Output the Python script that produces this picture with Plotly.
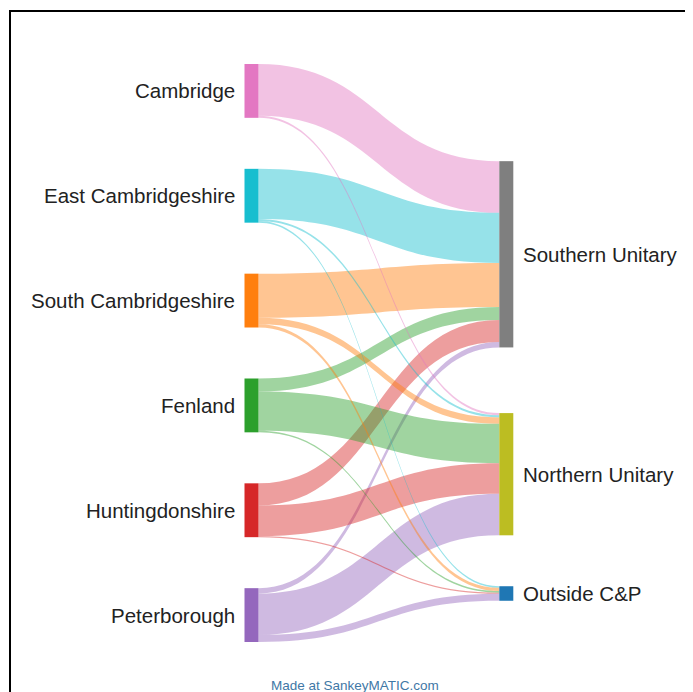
import plotly.graph_objects as go

# ---- data ----
sources = ["Cambridge", "East Cambridgeshire", "South Cambridgeshire",
           "Fenland", "Huntingdonshire", "Peterborough"]
targets = ["Southern Unitary", "Northern Unitary", "Outside C&P"]

to_southern = [96, 93, 82, 24, 41, 10]
to_northern = [4, 4, 12, 73, 57, 77]
to_outside = [0, 3, 6, 3, 2, 13]

source_colors = ["#e377c2", "#17becf", "#ff7f0e", "#2ca02c", "#d62728", "#9467bd"]
target_colors = ["#7f7f7f", "#bcbd22", "#1f77b4"]

# ---- layout constants (page pixels; the page body has an 8px margin) ----
OFF = 8
FIG_W, FIG_H = 693 - OFF, 692 - OFF
DOM_X0, DOM_X1 = 200, 560
DOM_Y0, DOM_Y1 = 64, 642
NODE_T = 14
PAD = 51
SRC_XC, TGT_XC = 251.5, 506.3
TGT_YC = [254.3, 474.2, 593.5]
LABEL_GAP = 8
FONT = "Liberation Sans, Arial, sans-serif"


def px_x(x):
    return (x - OFF) / FIG_W


def px_y(y):
    return 1 - (y - OFF) / FIG_H


W = DOM_X1 - DOM_X0
H = DOM_Y1 - DOM_Y0

flows = [to_southern, to_northern, to_outside]
src_tot = [sum(f[i] for f in flows) for i in range(len(sources))]
ky = (H - (len(sources) - 1) * PAD) / sum(src_tot)

src_yc = []
acc = 0.0
for t in src_tot:
    h = t * ky
    src_yc.append(acc + h / 2)
    acc += h + PAD

node_x = [(SRC_XC - DOM_X0) / W] * len(sources) + [(TGT_XC - DOM_X0) / W] * len(targets)
node_y = [y / H for y in src_yc] + [(y - DOM_Y0) / H for y in TGT_YC]


def rgba(hexc, a):
    hexc = hexc.lstrip("#")
    r, g, b = int(hexc[0:2], 16), int(hexc[2:4], 16), int(hexc[4:6], 16)
    return f"rgba({r},{g},{b},{a})"


link_s, link_t, link_v, link_c = [], [], [], []
for ti, f in enumerate(flows):
    for si, v in enumerate(f):
        if v > 0:
            link_s.append(si)
            link_t.append(len(sources) + ti)
            link_v.append(v)
            link_c.append(rgba(source_colors[si], 0.45))

names = sources + targets
fig = go.Figure(go.Sankey(
    arrangement="fixed",
    domain=dict(x=[px_x(DOM_X0), px_x(DOM_X1)],
                y=[px_y(DOM_Y1), px_y(DOM_Y0)]),
    node=dict(
        label=[""] * len(names),
        customdata=names,
        hovertemplate="%{customdata}: %{value}<extra></extra>",
        color=source_colors + target_colors,
        x=node_x, y=node_y,
        pad=PAD, thickness=NODE_T,
        line=dict(width=0),
    ),
    link=dict(source=link_s, target=link_t, value=link_v, color=link_c),
))

annotations = []
for i, name in enumerate(sources):
    annotations.append(dict(
        text=name, xref="paper", yref="paper",
        x=px_x(SRC_XC - NODE_T / 2 - LABEL_GAP),
        y=px_y(DOM_Y0 + src_yc[i]),
        xanchor="right", yanchor="middle", showarrow=False,
        font=dict(family=FONT, size=20.5, color="#222222"),
    ))
for i, name in enumerate(targets):
    annotations.append(dict(
        text=name, xref="paper", yref="paper",
        x=px_x(TGT_XC + NODE_T / 2 + LABEL_GAP),
        y=px_y(TGT_YC[i]),
        xanchor="left", yanchor="middle", showarrow=False,
        font=dict(family=FONT, size=20.5, color="#222222"),
    ))
annotations.append(dict(
    text="Made at SankeyMATIC.com", xref="paper", yref="paper",
    x=px_x(355), y=px_y(685), xanchor="center", yanchor="middle",
    showarrow=False,
    font=dict(family=FONT, size=13.5, color="#3f78a6"),
))

fig.update_layout(
    width=FIG_W, height=FIG_H,
    margin=dict(l=0, r=0, t=0, b=0),
    paper_bgcolor="white", plot_bgcolor="white",
    annotations=annotations,
    shapes=[dict(type="rect", xref="paper", yref="paper",
                 x0=px_x(10), x1=1.05, y0=-0.05, y1=px_y(11),
                 line=dict(color="black", width=2), fillcolor="rgba(0,0,0,0)")],
)

fig.write_html("out.html")
